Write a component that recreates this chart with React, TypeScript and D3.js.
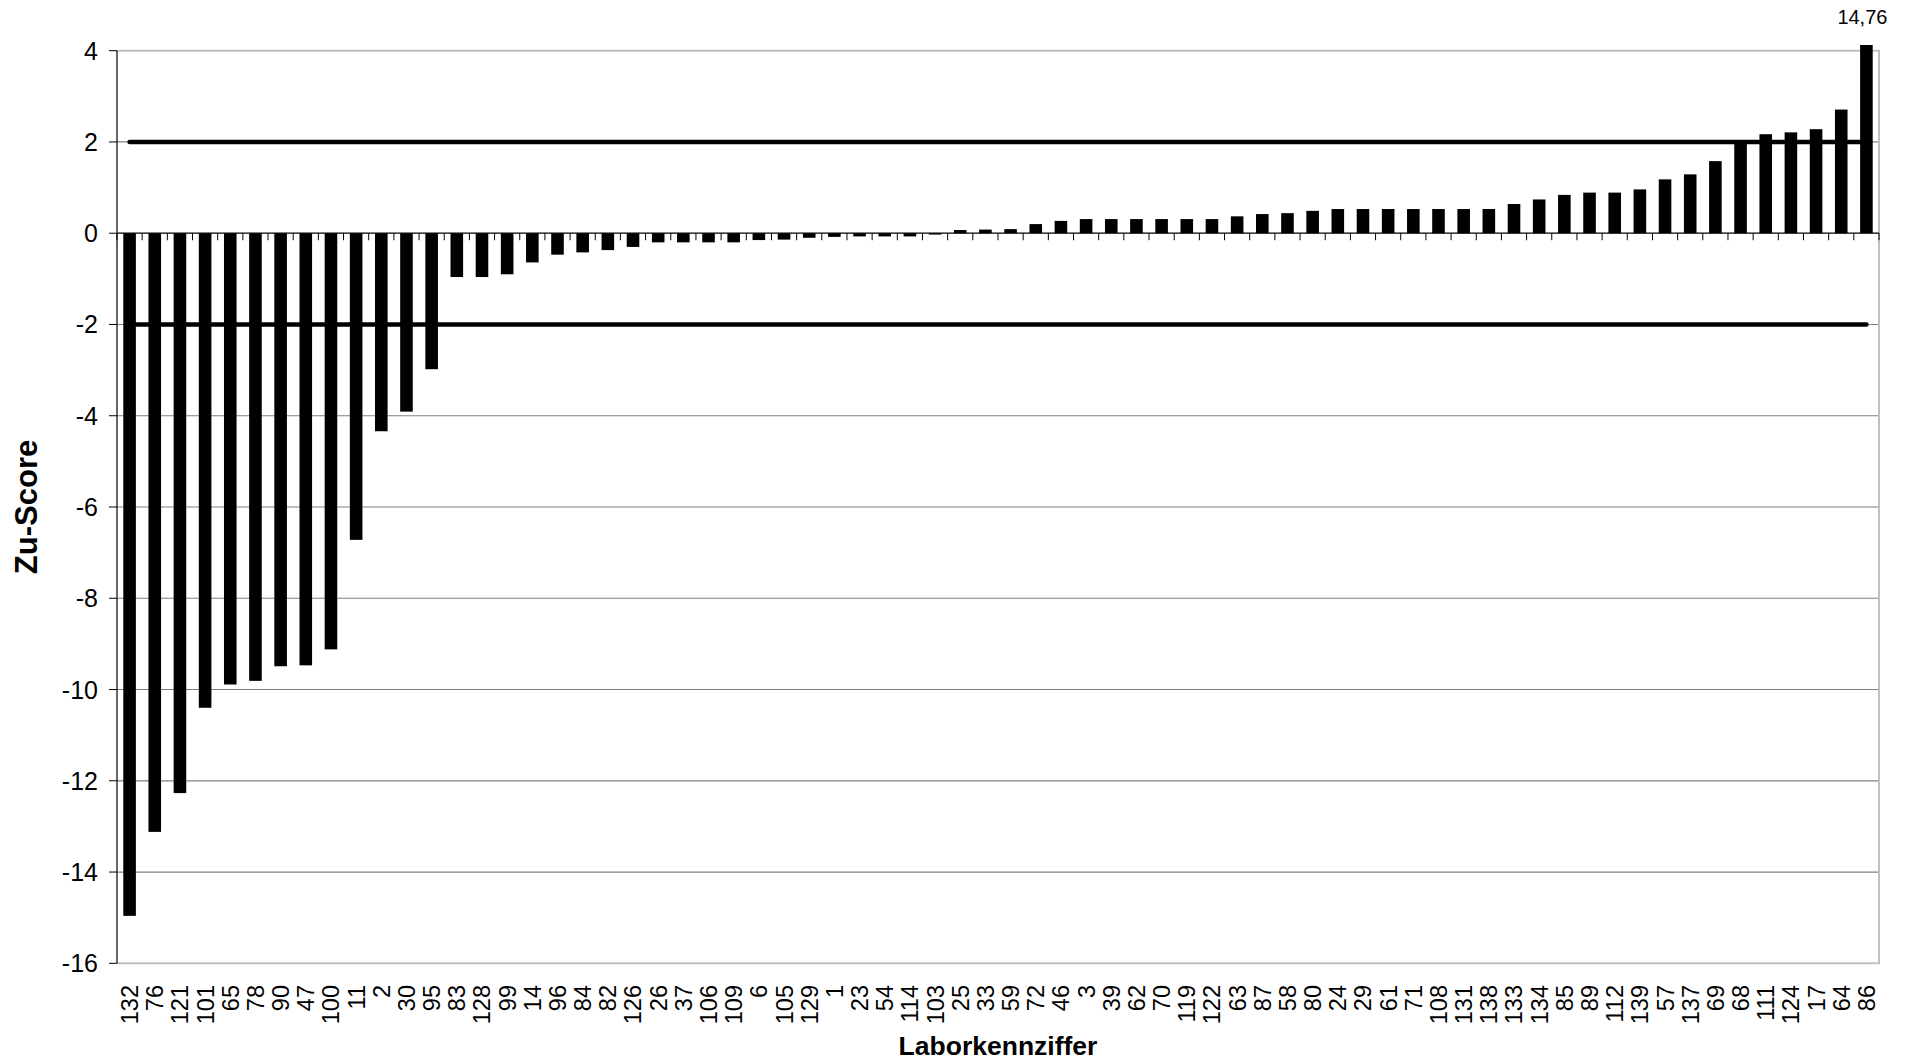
import React from "react";
import * as d3 from "d3";

const labs: string[] = [
  "132","76","121","101","65","78","90","47","100","11",
  "2","30","95","83","128","99","14","96","84","82",
  "126","26","37","106","109","6","105","129","1","23",
  "54","114","103","25","33","59","72","46","3","39",
  "62","70","119","122","63","87","58","80","24","29",
  "61","71","108","131","138","133","134","85","89","112",
  "139","57","137","69","68","111","124","17","64","86",
];

const scores: number[] = [
  -14.96, -13.12, -12.27, -10.4, -9.89, -9.81, -9.49, -9.47, -9.12, -6.72,
  -4.34, -3.91, -2.98, -0.96, -0.96, -0.9, -0.64, -0.47, -0.42, -0.37,
  -0.3, -0.2, -0.2, -0.2, -0.2, -0.15, -0.14, -0.1, -0.08, -0.07,
  -0.07, -0.07, -0.03, 0.07, 0.08, 0.09, 0.2, 0.27, 0.31, 0.31,
  0.31, 0.31, 0.31, 0.31, 0.37, 0.42, 0.44, 0.49, 0.53, 0.53,
  0.53, 0.53, 0.53, 0.53, 0.53, 0.64, 0.74, 0.84, 0.89, 0.89,
  0.96, 1.18, 1.29, 1.58, 1.99, 2.17, 2.21, 2.28, 2.71, 14.76,
];

const yTicks: number[] = [4, 2, 0, -2, -4, -6, -8, -10, -12, -14, -16];
const limits: number[] = [2, -2];
const yDomain: [number, number] = [-16, 4];

const W = 1912;
const H = 1064;
const left = 117;
const right = 1879;
const top = 50.7;
const bottom = 963.3;
const FONT = "'Liberation Sans', Arial, sans-serif";

export default function App() {
  const x = d3
    .scaleBand<string>()
    .domain(labs)
    .range([left, right])
    .paddingInner(0.5)
    .paddingOuter(0.25);
  const y = d3.scaleLinear().domain(yDomain).range([bottom, top]);
  const step = x.step();
  const bw = x.bandwidth();
  const cap = yDomain[1] + 0.125;
  const y0 = y(0);
  const first = labs[0];
  const last = labs[labs.length - 1];
  const fmt = (v: number) => String(v).replace(".", ",");

  return (
    <svg
      width={W}
      height={H}
      style={{ position: "absolute", left: 0, top: 0, background: "#fff" }}
    >
      <rect x={0} y={0} width={W} height={H} fill="#fff" />
      {/* gridlines */}
      {yTicks
        .filter((t) => t !== 0 && t !== yDomain[0] && t !== yDomain[1])
        .map((t) => (
          <line
            key={"g" + t}
            x1={left}
            x2={right}
            y1={y(t)}
            y2={y(t)}
            stroke="#808080"
            strokeWidth={1.2}
          />
        ))}
      {/* plot border */}
      <polyline
        points={`${left},${top} ${right},${top} ${right},${bottom} ${left},${bottom}`}
        fill="none"
        stroke="#c0c0c0"
        strokeWidth={2}
      />
      {/* bars */}
      {labs.map((l, i) => {
        const v = Math.min(scores[i], cap);
        const yy = y(Math.max(v, 0));
        const h = Math.abs(y(v) - y0);
        return (
          <rect
            key={"b" + l}
            x={x(l)}
            y={yy}
            width={bw}
            height={h}
            fill="#000"
          />
        );
      })}
      {/* zero axis */}
      <line x1={left} x2={right} y1={y0} y2={y0} stroke="#000" strokeWidth={1.2} />
      {d3.range(labs.length + 1).map((k) => (
        <line
          key={"xt" + k}
          x1={left + k * step}
          x2={left + k * step}
          y1={y0}
          y2={y0 + 7}
          stroke="#000"
          strokeWidth={1}
        />
      ))}
      {/* limit lines */}
      {limits.map((lv) => (
        <line
          key={"lim" + lv}
          x1={(x(first) as number) + bw / 2}
          x2={(x(last) as number) + bw / 2}
          y1={y(lv)}
          y2={y(lv)}
          stroke="#000"
          strokeWidth={4.5}
          strokeLinecap="round"
        />
      ))}
      {/* y axis */}
      <line x1={left} x2={left} y1={top} y2={bottom} stroke="#000" strokeWidth={1.2} />
      {yTicks.map((t) => (
        <g key={"yt" + t}>
          <line x1={left - 8} x2={left} y1={y(t)} y2={y(t)} stroke="#000" strokeWidth={1} />
          <text
            x={left - 19}
            y={y(t)}
            dy="0.36em"
            textAnchor="end"
            fontFamily={FONT}
            fontSize={25}
            fill="#000"
          >
            {t}
          </text>
        </g>
      ))}
      {/* x labels */}
      {labs.map((l) => {
        const cx = (x(l) as number) + bw / 2;
        const ty = 985;
        return (
          <text
            key={"xl" + l}
            transform={`translate(${cx},${ty}) rotate(-90)`}
            dy="0.36em"
            textAnchor="end"
            fontFamily={FONT}
            fontSize={23.5}
            fill="#000"
          >
            {l}
          </text>
        );
      })}
      {/* overflow label */}
      {labs.map((l, i) =>
        scores[i] > cap ? (
          <text
            key={"ov" + l}
            x={(x(l) as number) + bw / 2 - 4}
            y={24}
            textAnchor="middle"
            fontFamily={FONT}
            fontSize={20}
            fill="#000"
          >
            {fmt(scores[i])}
          </text>
        ) : null
      )}
      {/* axis titles */}
      <text
        x={(left + right) / 2}
        y={1055}
        textAnchor="middle"
        fontFamily={FONT}
        fontSize={26.5}
        fontWeight="bold"
        fill="#000"
      >
        Laborkennziffer
      </text>
      <text
        transform={`translate(37,${(top + bottom) / 2}) rotate(-90)`}
        textAnchor="middle"
        fontFamily={FONT}
        fontSize={31}
        fontWeight="bold"
        fill="#000"
      >
        Zu-Score
      </text>
    </svg>
  );
}
